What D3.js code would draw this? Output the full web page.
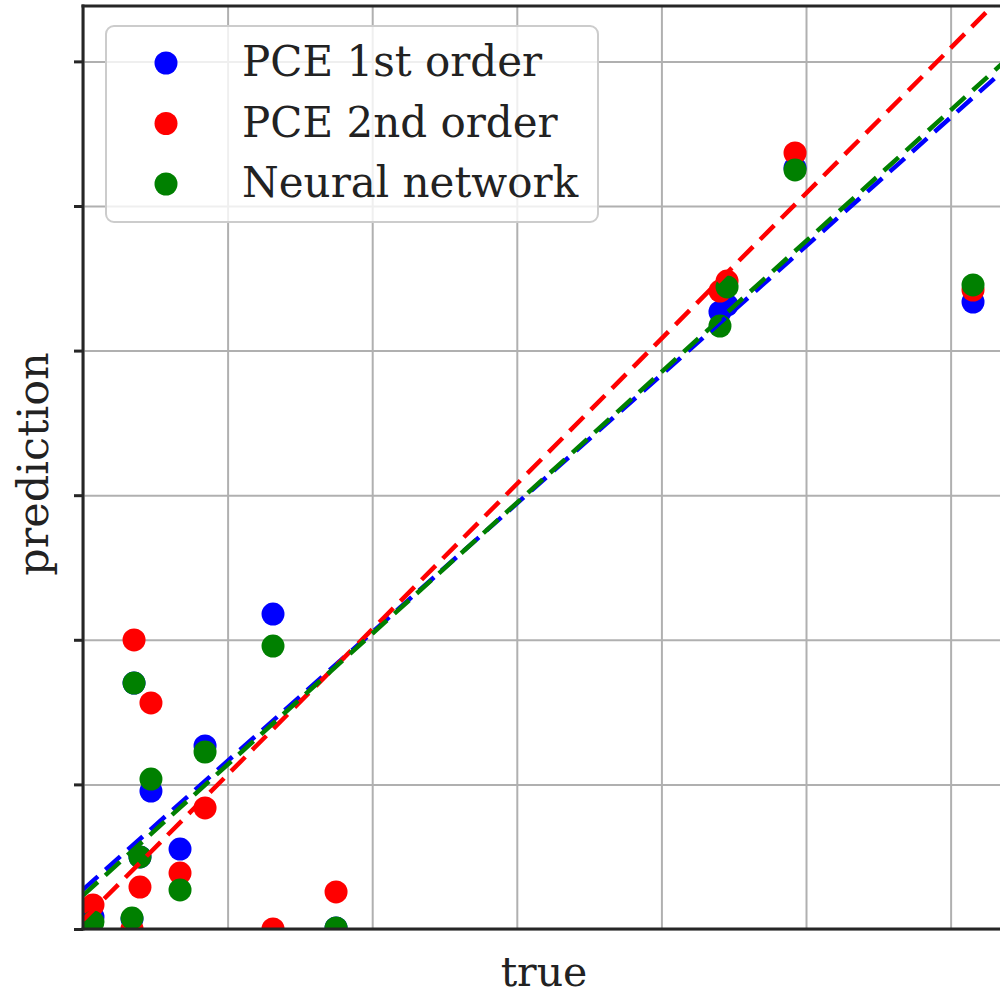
<!DOCTYPE html>
<html>
<head>
<meta charset="utf-8">
<script src="https://cdn.jsdelivr.net/npm/d3@7"></script>
<style>
  body { margin: 0; background: #fff; }
  svg { display: block; }
  text { font-family: "DejaVu Serif", serif; fill: #222; }
</style>
</head>
<body>
<div id="scatter"></div>
<script>
// data (true value vs. prediction)
var trueValues = [0.069, 0.339, 0.353, 0.394, 0.470, 0.671, 0.844, 1.314, 1.750, 4.405, 4.454, 4.924, 6.155];
var pce1Values = [0.083, 0.069, 1.701, 0.498, 0.954, 0.553, 1.266, 2.178, 0.007, 4.267, 4.315, 5.263, 4.336];
var pce2Values = [0.166, 0.000, 1.999, 0.290, 1.563, 0.387, 0.837, 0.000, 0.256, 4.412, 4.481, 5.367, 4.419];
var nnValues   = [0.048, 0.076, 1.701, 0.498, 1.037, 0.270, 1.224, 1.957, 0.007, 4.170, 4.440, 5.249, 4.454];

var seriesNames = ["PCE 1st order", "PCE 2nd order", "Neural network"];
var seriesColors = ["#0000ff", "#ff0000", "#008000"];
// linear fits drawn as dashed lines
var fitIntercepts = [0.272, 0.062, 0.232];
var fitSlopes = [0.890, 1.005, 0.905];

var gridTicks = [0, 1, 2, 3, 4, 5, 6];
var axisMax = 6.383;

// SVG area
var svgWidth = 1000;
var svgHeight = 994;
var margin = { top: 6, left: 83 };
var plotSize = 923;

var svg = d3.select("#scatter")
    .append("svg")
    .attr("width", svgWidth)
    .attr("height", svgHeight);

var xScale = d3.scaleLinear().domain([0, axisMax]).range([margin.left, margin.left + plotSize]);
var yScale = d3.scaleLinear().domain([0, axisMax]).range([margin.top + plotSize, margin.top]);

svg.append("clipPath").attr("id", "plotClip")
  .append("rect")
    .attr("x", margin.left).attr("y", margin.top)
    .attr("width", plotSize).attr("height", plotSize);

// grid
var xGrid = svg.append("g")
    .attr("transform", `translate(0, ${margin.top + plotSize})`)
    .call(d3.axisBottom(xScale).tickValues(gridTicks).tickSize(-plotSize).tickFormat(""));
var yGrid = svg.append("g")
    .attr("transform", `translate(${margin.left}, 0)`)
    .call(d3.axisLeft(yScale).tickValues(gridTicks).tickSize(-plotSize).tickFormat(""));
[xGrid, yGrid].forEach(function(g) {
    g.select(".domain").remove();
    g.selectAll("line").attr("stroke", "#b0b0b0").attr("stroke-width", 2);
});

// points
var series = [pce1Values, pce2Values, nnValues];
var plotArea = svg.append("g").attr("clip-path", "url(#plotClip)");

series.forEach(function(vals, i) {
    plotArea.append("g")
      .selectAll("circle")
      .data(vals)
      .enter()
      .append("circle")
        .attr("cx", (d, j) => xScale(trueValues[j]))
        .attr("cy", d => yScale(d))
        .attr("r", 11.5)
        .attr("fill", seriesColors[i]);
});

// fit lines
var line = d3.line().x(d => xScale(d[0])).y(d => yScale(d[1]));
fitIntercepts.forEach(function(b, i) {
    plotArea.append("path")
        .attr("d", line([[0, b], [axisMax, b + fitSlopes[i] * axisMax]]))
        .attr("fill", "none")
        .attr("stroke", seriesColors[i])
        .attr("stroke-width", 4.5)
        .attr("stroke-dasharray", "20,10");
});

// y ticks (no labels)
var leftAxis = svg.append("g")
    .attr("transform", `translate(${margin.left}, 0)`)
    .call(d3.axisLeft(yScale).tickValues(gridTicks).tickSize(9).tickFormat(""));
leftAxis.select(".domain").remove();
leftAxis.selectAll("line").attr("stroke", "#262626").attr("stroke-width", 3);

// spines
var spineLines = [
    [margin.left, margin.top, margin.left, margin.top + plotSize],
    [margin.left, margin.top, margin.left + plotSize, margin.top],
    [margin.left, margin.top + plotSize, margin.left + plotSize, margin.top + plotSize],
    [margin.left + plotSize, margin.top, margin.left + plotSize, margin.top + plotSize]
];
svg.append("g").selectAll("line")
    .data(spineLines)
    .enter()
    .append("line")
    .attr("x1", d => d[0]).attr("y1", d => d[1])
    .attr("x2", d => d[2]).attr("y2", d => d[3])
    .attr("stroke", "#262626")
    .attr("stroke-width", 3)
    .attr("stroke-linecap", "square");

// legend
var legend = svg.append("g");
legend.append("rect")
    .attr("x", 106).attr("y", 26)
    .attr("width", 492).attr("height", 196)
    .attr("rx", 8)
    .attr("fill", "#ffffff").attr("fill-opacity", 0.8)
    .attr("stroke", "#cccccc").attr("stroke-width", 2);

seriesNames.forEach(function(name, i) {
    var yRow = 63 + i * 60.5;
    legend.append("circle")
        .attr("cx", 166).attr("cy", yRow)
        .attr("r", 11.5)
        .attr("fill", seriesColors[i]);
    legend.append("text")
        .attr("x", 242).attr("y", yRow + 13)
        .attr("font-size", 42)
        .text(name);
});

// axis labels
svg.append("text")
    .attr("x", 544).attr("y", 986)
    .attr("text-anchor", "middle")
    .attr("font-size", 41)
    .text("true");

svg.append("text")
    .attr("transform", "translate(48, 464) rotate(-90)")
    .attr("text-anchor", "middle")
    .attr("font-size", 43)
    .text("prediction");
</script>
</body>
</html>
